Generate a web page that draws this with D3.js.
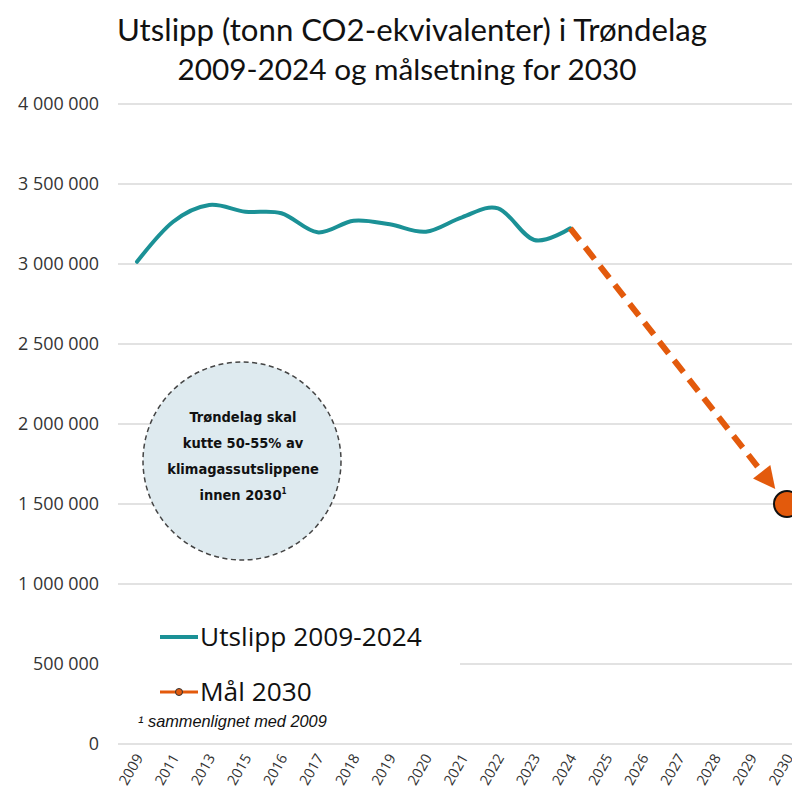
<!DOCTYPE html>
<html><head><meta charset="utf-8">
<script src="https://cdn.jsdelivr.net/npm/d3@7"></script>
<style>body{margin:0;background:#fff}svg{display:block}</style>
</head><body>
<svg id="c" width="792" height="795"></svg>
<script>
const categories = ["2009","2011","2013","2015","2016","2017","2018","2019","2020","2021","2022","2023","2024","2025","2026","2027","2028","2029","2030"];
const emissionYears = ["2009","2011","2013","2015","2016","2017","2018","2019","2020","2021","2022","2023","2024"];
const emissionValues = [3014000,3264000,3369000,3327000,3317000,3198000,3271000,3248000,3202000,3292000,3348000,3150000,3223000];
const targetYear = "2030";
const targetValue = 1500000;
const yTicks = [0,500000,1000000,1500000,2000000,2500000,3000000,3500000,4000000];
const titleLines = ["Utslipp (tonn CO2-ekvivalenter) i Trøndelag","2009-2024 og målsetning for 2030"];
const legendLabels = ["Utslipp 2009-2024","Mål 2030"];
const noteLines = ["Trøndelag skal","kutte 50-55% av","klimagassutslippene","innen 2030"];
const footnote = "¹ sammenlignet med 2009";

const teal = "#1b9196", orange = "#e35a0c";
const svg = d3.select("#c");
const x = d3.scalePoint().domain(categories).range([137, 787]);
const y = d3.scaleLinear().domain([0, 4000000]).range([744, 104]);
const fmt = d3.formatLocale({decimal:",", thousands:"\u00a0", grouping:[3], currency:["",""]}).format(",d");

const fitText = (sel, width) => {
  const w = sel.node().getComputedTextLength();
  const fs = parseFloat(sel.attr("font-size"));
  sel.attr("font-size", fs * width / w);
};

// title
const t1 = svg.append("text").attr("x", 412).attr("y", 41).attr("text-anchor","middle")
  .attr("font-family","Lato, 'Open Sans', sans-serif").attr("font-size",28).attr("fill","#111").text(titleLines[0]);
fitText(t1, 590);
const t2 = svg.append("text").attr("x", 407).attr("y", 80).attr("text-anchor","middle")
  .attr("font-family","Lato, 'Open Sans', sans-serif").attr("font-size",28).attr("fill","#111").text(titleLines[1]);
fitText(t2, 459);

// gridlines
svg.append("g").selectAll("line").data(yTicks).join("line")
  .attr("x1",118).attr("x2",800).attr("y1",d=>y(d)).attr("y2",d=>y(d))
  .attr("stroke","#d9d9d9").attr("stroke-width",1.5);

// y labels
const yl = svg.append("g").selectAll("text").data(yTicks).join("text")
  .attr("x",99).attr("y",d=>y(d)).attr("dy","0.36em").attr("text-anchor","end")
  .attr("font-family","'Open Sans', sans-serif").attr("font-size",16).attr("fill","#333")
  .text(d=>fmt(d));
fitText(d3.select(yl.nodes()[yl.size()-1]), 81);
yl.attr("font-size", d3.select(yl.nodes()[yl.size()-1]).attr("font-size"));

// x labels
svg.append("g").selectAll("text").data(categories).join("text")
  .attr("transform",d=>`translate(${x(d)+2},755) rotate(-60)`).attr("dy","0.36em").attr("text-anchor","end")
  .attr("font-family","'Open Sans', sans-serif").attr("font-size",14.5).attr("fill","#333")
  .text(d=>d);

// legend background
svg.append("rect").attr("x",118).attr("y",605).attr("width",342).attr("height",105).attr("fill","#fff");

// note circle
svg.append("circle").attr("cx",242).attr("cy",461).attr("r",99)
  .attr("fill","#deeaef").attr("stroke","#444").attr("stroke-width",1.5).attr("stroke-dasharray","5,3.5");
const nt = svg.append("g").attr("font-family","'DejaVu Sans Condensed','DejaVu Sans',sans-serif")
  .attr("font-stretch","condensed").attr("font-weight","bold").attr("font-size",14.5).attr("fill","#111").attr("text-anchor","middle");
const ntexts = noteLines.map((s,i)=>{
  const tx = nt.append("text").attr("x",243).attr("y",422+i*26).text(s);
  if(i===3) tx.append("tspan").attr("font-size",8).attr("dy",-6).text("1");
  return tx;
});
fitText(ntexts[2], 141);
const nfs = ntexts[2].attr("font-size");
ntexts.forEach(t=>t.attr("font-size",nfs));

// emissions line
const line = d3.line().x(d=>x(d[0])).y(d=>y(d[1])).curve(d3.curveCatmullRom.alpha(0));
svg.append("path").datum(emissionYears.map((d,i)=>[d,emissionValues[i]]))
  .attr("d",line).attr("fill","none").attr("stroke",teal).attr("stroke-width",4).attr("stroke-linecap","round");

// arrow
const lastYear = emissionYears[emissionYears.length-1], lastVal = emissionValues[emissionValues.length-1];
const x0 = x(lastYear), y0 = y(lastVal), x1 = x(targetYear), y1 = y(targetValue);
const ang = Math.atan2(y1-y0, x1-x0);
const tipDist = Math.hypot(x1-x0,y1-y0) - 19;
const tipX = x0 + Math.cos(ang)*tipDist, tipY = y0 + Math.sin(ang)*tipDist;
const headLen = 22, headW = 11;
const bx = tipX - Math.cos(ang)*headLen, by = tipY - Math.sin(ang)*headLen;
svg.append("line").attr("x1",x0).attr("y1",y0).attr("x2",bx+Math.cos(ang)*2).attr("y2",by+Math.sin(ang)*2)
  .attr("stroke",orange).attr("stroke-width",6).attr("stroke-dasharray","15,9");
const px = -Math.sin(ang), py = Math.cos(ang);
svg.append("path").attr("d",`M${tipX},${tipY}L${bx+px*headW},${by+py*headW}L${bx-px*headW},${by-py*headW}Z`).attr("fill",orange);

// target marker
svg.append("circle").attr("cx",x1).attr("cy",y1).attr("r",13)
  .attr("fill",orange).attr("stroke","#111").attr("stroke-width",2);

// legend
const lg = svg.append("g");
lg.append("line").attr("x1",160).attr("x2",198).attr("y1",637).attr("y2",637).attr("stroke",teal).attr("stroke-width",4);
lg.append("line").attr("x1",160).attr("x2",198).attr("y1",692).attr("y2",692).attr("stroke",orange).attr("stroke-width",3);
lg.append("circle").attr("cx",179).attr("cy",692).attr("r",3.5).attr("fill",orange).attr("stroke","#333").attr("stroke-width",1);
const lt = legendLabels.map((s,i)=>lg.append("text").attr("x",200).attr("y",646+i*55).attr("font-family","'Open Sans', sans-serif")
    .attr("font-size",24).attr("fill","#111").text(s));
fitText(lt[0], 222);
lt[1].attr("font-size", lt[0].attr("font-size"));

// footnote
const fn = svg.append("text").attr("x",138).attr("y",727).attr("font-family","'Liberation Sans', Arial, sans-serif")
  .attr("font-style","italic").attr("font-size",13).attr("fill","#111").text(footnote);
fitText(fn, 189);
</script>
</body></html>
